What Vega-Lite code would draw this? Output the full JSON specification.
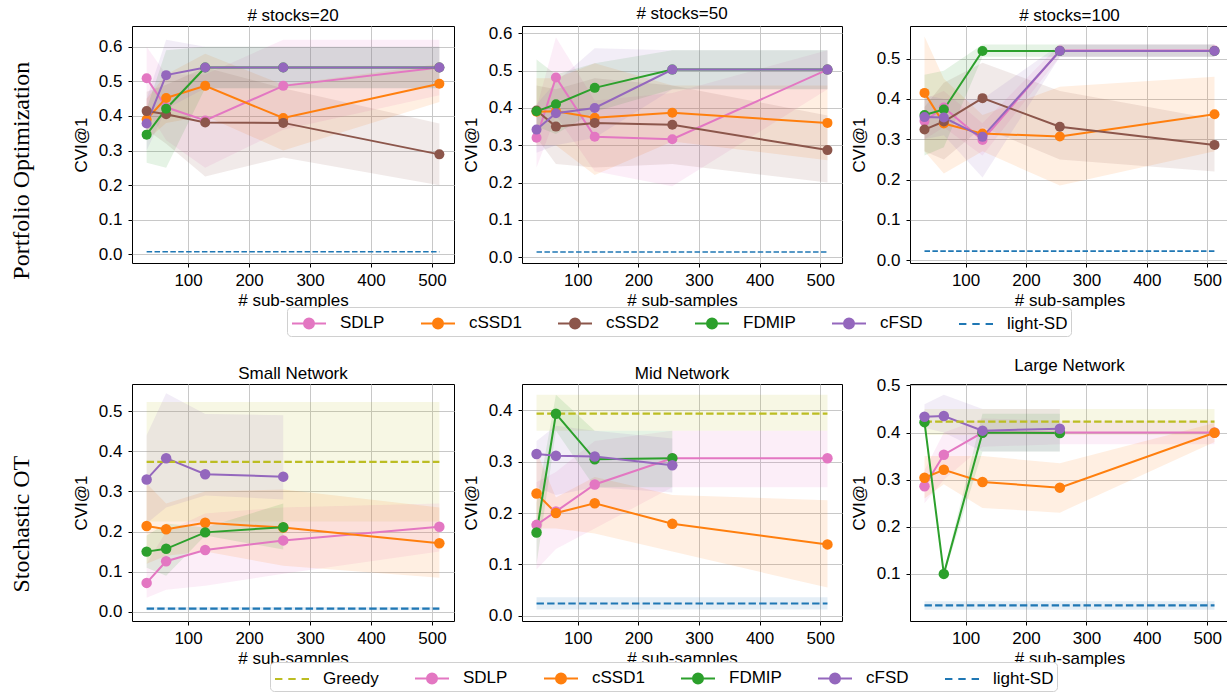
{
"$schema": "https://vega.github.io/schema/vega-lite/v6.json",
"padding": {"left": 9, "top": 4, "right": 0, "bottom": 0},
"data": {"values": [
{"p":"s20","s":"SDLP","x":32,"y":0.509,"lo":0.42,"hi":0.6},
{"p":"s20","s":"SDLP","x":64,"y":0.425,"lo":0.33,"hi":0.52},
{"p":"s20","s":"SDLP","x":128,"y":0.387,"lo":0.25,"hi":0.52},
{"p":"s20","s":"SDLP","x":256,"y":0.487,"lo":0.36,"hi":0.62},
{"p":"s20","s":"SDLP","x":512,"y":0.54,"lo":0.46,"hi":0.62},
{"p":"s20","s":"cSSD1","x":32,"y":0.39,"lo":0.33,"hi":0.45},
{"p":"s20","s":"cSSD1","x":64,"y":0.452,"lo":0.38,"hi":0.52},
{"p":"s20","s":"cSSD1","x":128,"y":0.487,"lo":0.4,"hi":0.58},
{"p":"s20","s":"cSSD1","x":256,"y":0.394,"lo":0.3,"hi":0.49},
{"p":"s20","s":"cSSD1","x":512,"y":0.493,"lo":0.44,"hi":0.55},
{"p":"s20","s":"cSSD2","x":32,"y":0.414,"lo":0.36,"hi":0.47},
{"p":"s20","s":"cSSD2","x":64,"y":0.405,"lo":0.32,"hi":0.49},
{"p":"s20","s":"cSSD2","x":128,"y":0.381,"lo":0.225,"hi":0.54},
{"p":"s20","s":"cSSD2","x":256,"y":0.38,"lo":0.28,"hi":0.48},
{"p":"s20","s":"cSSD2","x":512,"y":0.289,"lo":0.2,"hi":0.378},
{"p":"s20","s":"FDMIP","x":32,"y":0.346,"lo":0.265,"hi":0.42},
{"p":"s20","s":"FDMIP","x":64,"y":0.421,"lo":0.25,"hi":0.59},
{"p":"s20","s":"FDMIP","x":128,"y":0.54,"lo":0.48,"hi":0.6},
{"p":"s20","s":"FDMIP","x":256,"y":0.54,"lo":0.48,"hi":0.6},
{"p":"s20","s":"FDMIP","x":512,"y":0.54,"lo":0.48,"hi":0.6},
{"p":"s20","s":"cFSD","x":32,"y":0.378,"lo":0.3,"hi":0.45},
{"p":"s20","s":"cFSD","x":64,"y":0.518,"lo":0.42,"hi":0.62},
{"p":"s20","s":"cFSD","x":128,"y":0.54,"lo":0.48,"hi":0.6},
{"p":"s20","s":"cFSD","x":256,"y":0.54,"lo":0.48,"hi":0.6},
{"p":"s20","s":"cFSD","x":512,"y":0.54,"lo":0.48,"hi":0.6},
{"p":"s20","s":"light-SD","x":32,"y":0.0075},
{"p":"s20","s":"light-SD","x":64,"y":0.0075},
{"p":"s20","s":"light-SD","x":128,"y":0.0075},
{"p":"s20","s":"light-SD","x":256,"y":0.0075},
{"p":"s20","s":"light-SD","x":512,"y":0.0075},
{"p":"s50","s":"SDLP","x":32,"y":0.32,"lo":0.24,"hi":0.4},
{"p":"s50","s":"SDLP","x":64,"y":0.482,"lo":0.38,"hi":0.59},
{"p":"s50","s":"SDLP","x":128,"y":0.323,"lo":0.23,"hi":0.42},
{"p":"s50","s":"SDLP","x":256,"y":0.316,"lo":0.19,"hi":0.44},
{"p":"s50","s":"SDLP","x":512,"y":0.503,"lo":0.45,"hi":0.555},
{"p":"s50","s":"cSSD1","x":32,"y":0.39,"lo":0.3,"hi":0.48},
{"p":"s50","s":"cSSD1","x":64,"y":0.391,"lo":0.3,"hi":0.48},
{"p":"s50","s":"cSSD1","x":128,"y":0.374,"lo":0.22,"hi":0.52},
{"p":"s50","s":"cSSD1","x":256,"y":0.387,"lo":0.31,"hi":0.46},
{"p":"s50","s":"cSSD1","x":512,"y":0.36,"lo":0.26,"hi":0.46},
{"p":"s50","s":"cSSD2","x":32,"y":0.393,"lo":0.32,"hi":0.46},
{"p":"s50","s":"cSSD2","x":64,"y":0.35,"lo":0.25,"hi":0.45},
{"p":"s50","s":"cSSD2","x":128,"y":0.36,"lo":0.24,"hi":0.48},
{"p":"s50","s":"cSSD2","x":256,"y":0.355,"lo":0.25,"hi":0.46},
{"p":"s50","s":"cSSD2","x":512,"y":0.287,"lo":0.2,"hi":0.38},
{"p":"s50","s":"FDMIP","x":32,"y":0.391,"lo":0.35,"hi":0.53},
{"p":"s50","s":"FDMIP","x":64,"y":0.41,"lo":0.33,"hi":0.49},
{"p":"s50","s":"FDMIP","x":128,"y":0.454,"lo":0.39,"hi":0.52},
{"p":"s50","s":"FDMIP","x":256,"y":0.503,"lo":0.45,"hi":0.555},
{"p":"s50","s":"FDMIP","x":512,"y":0.503,"lo":0.45,"hi":0.555},
{"p":"s50","s":"cFSD","x":32,"y":0.342,"lo":0.28,"hi":0.41},
{"p":"s50","s":"cFSD","x":64,"y":0.386,"lo":0.3,"hi":0.47},
{"p":"s50","s":"cFSD","x":128,"y":0.4,"lo":0.32,"hi":0.56},
{"p":"s50","s":"cFSD","x":256,"y":0.503,"lo":0.45,"hi":0.555},
{"p":"s50","s":"cFSD","x":512,"y":0.503,"lo":0.45,"hi":0.555},
{"p":"s50","s":"light-SD","x":32,"y":0.0135},
{"p":"s50","s":"light-SD","x":64,"y":0.0135},
{"p":"s50","s":"light-SD","x":128,"y":0.0135},
{"p":"s50","s":"light-SD","x":256,"y":0.0135},
{"p":"s50","s":"light-SD","x":512,"y":0.0135},
{"p":"s100","s":"SDLP","x":32,"y":0.345,"lo":0.3,"hi":0.4},
{"p":"s100","s":"SDLP","x":64,"y":0.379,"lo":0.33,"hi":0.42},
{"p":"s100","s":"SDLP","x":128,"y":0.298,"lo":0.26,"hi":0.34},
{"p":"s100","s":"SDLP","x":256,"y":0.52,"lo":0.505,"hi":0.535},
{"p":"s100","s":"SDLP","x":512,"y":0.52,"lo":0.505,"hi":0.535},
{"p":"s100","s":"cSSD1","x":32,"y":0.415,"lo":0.27,"hi":0.555},
{"p":"s100","s":"cSSD1","x":64,"y":0.339,"lo":0.215,"hi":0.45},
{"p":"s100","s":"cSSD1","x":128,"y":0.314,"lo":0.27,"hi":0.36},
{"p":"s100","s":"cSSD1","x":256,"y":0.307,"lo":0.185,"hi":0.43},
{"p":"s100","s":"cSSD1","x":512,"y":0.362,"lo":0.27,"hi":0.455},
{"p":"s100","s":"cSSD2","x":32,"y":0.324,"lo":0.27,"hi":0.38},
{"p":"s100","s":"cSSD2","x":64,"y":0.344,"lo":0.25,"hi":0.44},
{"p":"s100","s":"cSSD2","x":128,"y":0.402,"lo":0.33,"hi":0.49},
{"p":"s100","s":"cSSD2","x":256,"y":0.331,"lo":0.25,"hi":0.42},
{"p":"s100","s":"cSSD2","x":512,"y":0.286,"lo":0.22,"hi":0.35},
{"p":"s100","s":"FDMIP","x":32,"y":0.36,"lo":0.26,"hi":0.46},
{"p":"s100","s":"FDMIP","x":64,"y":0.374,"lo":0.28,"hi":0.47},
{"p":"s100","s":"FDMIP","x":128,"y":0.519,"lo":0.505,"hi":0.535},
{"p":"s100","s":"FDMIP","x":256,"y":0.519,"lo":0.505,"hi":0.535},
{"p":"s100","s":"FDMIP","x":512,"y":0.519,"lo":0.505,"hi":0.535},
{"p":"s100","s":"cFSD","x":32,"y":0.355,"lo":0.3,"hi":0.41},
{"p":"s100","s":"cFSD","x":64,"y":0.354,"lo":0.31,"hi":0.4},
{"p":"s100","s":"cFSD","x":128,"y":0.306,"lo":0.205,"hi":0.4},
{"p":"s100","s":"cFSD","x":256,"y":0.519,"lo":0.505,"hi":0.535},
{"p":"s100","s":"cFSD","x":512,"y":0.519,"lo":0.505,"hi":0.535},
{"p":"s100","s":"light-SD","x":32,"y":0.0225},
{"p":"s100","s":"light-SD","x":64,"y":0.0225},
{"p":"s100","s":"light-SD","x":128,"y":0.0225},
{"p":"s100","s":"light-SD","x":256,"y":0.0225},
{"p":"s100","s":"light-SD","x":512,"y":0.0225},
{"p":"small","s":"Greedy","x":32,"y":0.374,"lo":0.225,"hi":0.523},
{"p":"small","s":"Greedy","x":64,"y":0.374,"lo":0.225,"hi":0.523},
{"p":"small","s":"Greedy","x":128,"y":0.374,"lo":0.225,"hi":0.523},
{"p":"small","s":"Greedy","x":256,"y":0.374,"lo":0.225,"hi":0.523},
{"p":"small","s":"Greedy","x":512,"y":0.374,"lo":0.225,"hi":0.523},
{"p":"small","s":"SDLP","x":32,"y":0.072,"lo":0.035,"hi":0.12},
{"p":"small","s":"SDLP","x":64,"y":0.126,"lo":0.055,"hi":0.2},
{"p":"small","s":"SDLP","x":128,"y":0.154,"lo":0.065,"hi":0.245},
{"p":"small","s":"SDLP","x":256,"y":0.178,"lo":0.095,"hi":0.26},
{"p":"small","s":"SDLP","x":512,"y":0.212,"lo":0.15,"hi":0.27},
{"p":"small","s":"cSSD1","x":32,"y":0.214,"lo":0.12,"hi":0.32},
{"p":"small","s":"cSSD1","x":64,"y":0.206,"lo":0.14,"hi":0.27},
{"p":"small","s":"cSSD1","x":128,"y":0.222,"lo":0.15,"hi":0.3},
{"p":"small","s":"cSSD1","x":256,"y":0.21,"lo":0.115,"hi":0.305},
{"p":"small","s":"cSSD1","x":512,"y":0.171,"lo":0.085,"hi":0.26},
{"p":"small","s":"FDMIP","x":32,"y":0.15,"lo":0.11,"hi":0.19},
{"p":"small","s":"FDMIP","x":64,"y":0.157,"lo":0.09,"hi":0.22},
{"p":"small","s":"FDMIP","x":128,"y":0.198,"lo":0.19,"hi":0.21},
{"p":"small","s":"FDMIP","x":256,"y":0.211,"lo":0.155,"hi":0.27},
{"p":"small","s":"cFSD","x":32,"y":0.33,"lo":0.22,"hi":0.44},
{"p":"small","s":"cFSD","x":64,"y":0.383,"lo":0.26,"hi":0.545},
{"p":"small","s":"cFSD","x":128,"y":0.343,"lo":0.29,"hi":0.493},
{"p":"small","s":"cFSD","x":256,"y":0.337,"lo":0.28,"hi":0.49},
{"p":"small","s":"light-SD","x":32,"y":0.008,"lo":0.004,"hi":0.012},
{"p":"small","s":"light-SD","x":64,"y":0.008,"lo":0.004,"hi":0.012},
{"p":"small","s":"light-SD","x":128,"y":0.008,"lo":0.004,"hi":0.012},
{"p":"small","s":"light-SD","x":256,"y":0.008,"lo":0.004,"hi":0.012},
{"p":"small","s":"light-SD","x":512,"y":0.008,"lo":0.004,"hi":0.012},
{"p":"mid","s":"Greedy","x":32,"y":0.3935,"lo":0.36,"hi":0.43},
{"p":"mid","s":"Greedy","x":64,"y":0.3935,"lo":0.36,"hi":0.43},
{"p":"mid","s":"Greedy","x":128,"y":0.3935,"lo":0.36,"hi":0.43},
{"p":"mid","s":"Greedy","x":256,"y":0.3935,"lo":0.36,"hi":0.43},
{"p":"mid","s":"Greedy","x":512,"y":0.3935,"lo":0.36,"hi":0.43},
{"p":"mid","s":"SDLP","x":32,"y":0.177,"lo":0.09,"hi":0.26},
{"p":"mid","s":"SDLP","x":64,"y":0.203,"lo":0.13,"hi":0.28},
{"p":"mid","s":"SDLP","x":128,"y":0.2555,"lo":0.17,"hi":0.34},
{"p":"mid","s":"SDLP","x":256,"y":0.3065,"lo":0.25,"hi":0.36},
{"p":"mid","s":"SDLP","x":512,"y":0.3065,"lo":0.25,"hi":0.36},
{"p":"mid","s":"cSSD1","x":32,"y":0.238,"lo":0.17,"hi":0.32},
{"p":"mid","s":"cSSD1","x":64,"y":0.2,"lo":0.17,"hi":0.23},
{"p":"mid","s":"cSSD1","x":128,"y":0.219,"lo":0.16,"hi":0.27},
{"p":"mid","s":"cSSD1","x":256,"y":0.179,"lo":0.125,"hi":0.235},
{"p":"mid","s":"cSSD1","x":512,"y":0.139,"lo":0.055,"hi":0.225},
{"p":"mid","s":"FDMIP","x":32,"y":0.162,"lo":0.1,"hi":0.22},
{"p":"mid","s":"FDMIP","x":64,"y":0.393,"lo":0.36,"hi":0.43},
{"p":"mid","s":"FDMIP","x":128,"y":0.3045,"lo":0.25,"hi":0.36},
{"p":"mid","s":"FDMIP","x":256,"y":0.3065,"lo":0.25,"hi":0.36},
{"p":"mid","s":"cFSD","x":32,"y":0.315,"lo":0.25,"hi":0.34},
{"p":"mid","s":"cFSD","x":64,"y":0.3115,"lo":0.235,"hi":0.37},
{"p":"mid","s":"cFSD","x":128,"y":0.31,"lo":0.25,"hi":0.36},
{"p":"mid","s":"cFSD","x":256,"y":0.293,"lo":0.24,"hi":0.345},
{"p":"mid","s":"light-SD","x":32,"y":0.024,"lo":0.0125,"hi":0.036},
{"p":"mid","s":"light-SD","x":64,"y":0.024,"lo":0.0125,"hi":0.036},
{"p":"mid","s":"light-SD","x":128,"y":0.024,"lo":0.0125,"hi":0.036},
{"p":"mid","s":"light-SD","x":256,"y":0.024,"lo":0.0125,"hi":0.036},
{"p":"mid","s":"light-SD","x":512,"y":0.024,"lo":0.0125,"hi":0.036},
{"p":"large","s":"Greedy","x":32,"y":0.423,"lo":0.395,"hi":0.45},
{"p":"large","s":"Greedy","x":64,"y":0.423,"lo":0.395,"hi":0.45},
{"p":"large","s":"Greedy","x":128,"y":0.423,"lo":0.395,"hi":0.45},
{"p":"large","s":"Greedy","x":256,"y":0.423,"lo":0.395,"hi":0.45},
{"p":"large","s":"Greedy","x":512,"y":0.423,"lo":0.395,"hi":0.45},
{"p":"large","s":"SDLP","x":32,"y":0.286,"lo":0.25,"hi":0.32},
{"p":"large","s":"SDLP","x":64,"y":0.353,"lo":0.3,"hi":0.4},
{"p":"large","s":"SDLP","x":128,"y":0.4,"lo":0.37,"hi":0.43},
{"p":"large","s":"SDLP","x":256,"y":0.4,"lo":0.375,"hi":0.425},
{"p":"large","s":"SDLP","x":512,"y":0.4,"lo":0.375,"hi":0.425},
{"p":"large","s":"cSSD1","x":32,"y":0.304,"lo":0.26,"hi":0.35},
{"p":"large","s":"cSSD1","x":64,"y":0.321,"lo":0.29,"hi":0.35},
{"p":"large","s":"cSSD1","x":128,"y":0.295,"lo":0.24,"hi":0.35},
{"p":"large","s":"cSSD1","x":256,"y":0.283,"lo":0.23,"hi":0.335},
{"p":"large","s":"cSSD1","x":512,"y":0.3995,"lo":0.38,"hi":0.42},
{"p":"large","s":"FDMIP","x":32,"y":0.422,"lo":0.41,"hi":0.43},
{"p":"large","s":"FDMIP","x":64,"y":0.1,"lo":0.095,"hi":0.105},
{"p":"large","s":"FDMIP","x":128,"y":0.3995,"lo":0.36,"hi":0.44},
{"p":"large","s":"FDMIP","x":256,"y":0.399,"lo":0.36,"hi":0.44},
{"p":"large","s":"cFSD","x":32,"y":0.4335,"lo":0.41,"hi":0.46},
{"p":"large","s":"cFSD","x":64,"y":0.435,"lo":0.4,"hi":0.48},
{"p":"large","s":"cFSD","x":128,"y":0.404,"lo":0.36,"hi":0.45},
{"p":"large","s":"cFSD","x":256,"y":0.408,"lo":0.36,"hi":0.45},
{"p":"large","s":"light-SD","x":32,"y":0.033,"lo":0.024,"hi":0.042},
{"p":"large","s":"light-SD","x":64,"y":0.033,"lo":0.024,"hi":0.042},
{"p":"large","s":"light-SD","x":128,"y":0.033,"lo":0.024,"hi":0.042},
{"p":"large","s":"light-SD","x":256,"y":0.033,"lo":0.024,"hi":0.042},
{"p":"large","s":"light-SD","x":512,"y":0.033,"lo":0.024,"hi":0.042}
]},
"config": {
  "font": "Liberation Sans",
  "view": {"stroke": "black", "strokeWidth": 1},
  "axis": {"labelFont": "Liberation Sans", "labelFontSize": 17, "labelColor": "black", "titleFont": "Liberation Sans", "titleFontSize": 17, "titleFontWeight": "normal", "titleColor": "black", "tickColor": "black", "tickSize": 4, "domain": false, "gridColor": "#c8c8c8", "gridWidth": 1, "labelFlush": false},
  "axisY": {"titlePadding": 8, "labelPadding": 6},
  "axisX": {"titlePadding": 4, "labelPadding": 5},
  "title": {"font": "Liberation Sans", "fontSize": 17, "fontWeight": "normal", "color": "black", "offset": 1},
  "legend": {"labelFont": "Liberation Sans", "labelFontSize": 17, "labelColor": "black"}
},
"spacing": 19,
"resolve": {"scale": {"color": "independent"}, "legend": {"color": "independent"}},
"vconcat": [
{
  "title": {"text": "Portfolio Optimization", "orient": "left", "anchor": "middle", "font": "Liberation Serif", "fontSize": 24, "fontWeight": "normal", "offset": 38},
  "spacing": 6,
  "resolve": {"scale": {"color": "shared", "x": "independent", "y": "independent"}, "legend": {"color": "shared"}},
  "hconcat": [
  {
    "width": 322, "height": 237,
    "title": "# stocks=20",
    "transform": [{"filter": "datum.p === 's20'"}],
    "encoding": {
      "x": {"field": "x", "type": "quantitative", "scale": {"domain": [8, 536], "nice": false, "zero": false}, "axis": {"values": [100,200,300,400,500], "title": "# sub-samples"}},
      "y": {"field": "y", "type": "quantitative", "scale": {"domain": [-0.025, 0.66], "nice": false, "zero": false}, "axis": {"values": [0,0.1,0.2,0.3,0.4,0.5,0.6], "format": ".1f", "title": "CVI@1"}},
      "color": {"field": "s", "type": "nominal", "scale": {"domain": ["SDLP","cSSD1","cSSD2","FDMIP","cFSD","light-SD"], "range": ["#e377c2","#ff7f0e","#8c564b","#2ca02c","#9467bd","#1f77b4"]},
        "legend": {"title": null, "orient": "none", "legendX": 155, "legendY": 281, "direction": "horizontal", "symbolSize": 576, "symbolOffset": 6, "labelOffset": 18, "columnPadding": 31, "padding": 3, "strokeColor": "#d0d0d0", "cornerRadius": 4, "fillColor": "white",
          "encode": {"symbols": {"update": {
            "shape": [{"test": "datum.value === 'Greedy' || datum.value === 'light-SD'", "value": "M-1.417,0L-0.8,0M-0.308,0L0.308,0M0.8,0L1.417,0"}, {"value": "M-1.417,0L1.417,0M-0.417,0A0.417,0.417,0,1,0,0.417,0A0.417,0.417,0,1,0,-0.417,0Z"}],
            "fill": {"signal": "datum.value==='SDLP'?'#e377c2':datum.value==='cSSD1'?'#ff7f0e':datum.value==='cSSD2'?'#8c564b':datum.value==='FDMIP'?'#2ca02c':datum.value==='cFSD'?'#9467bd':datum.value==='Greedy'?'#bcbd22':'#1f77b4'"},
            "stroke": {"signal": "datum.value==='SDLP'?'#e377c2':datum.value==='cSSD1'?'#ff7f0e':datum.value==='cSSD2'?'#8c564b':datum.value==='FDMIP'?'#2ca02c':datum.value==='cFSD'?'#9467bd':datum.value==='Greedy'?'#bcbd22':'#1f77b4'"},
            "strokeWidth": {"value": 2}, "opacity": {"value": 1}, "strokeDash": {"value": []}}}}}}
    },
    "layer": [
      {"transform": [{"filter": "isValid(datum.lo)"}], "mark": {"type": "area", "opacity": 0.12}, "encoding": {"y": {"field": "lo", "type": "quantitative", "scale": {"domain": [-0.025, 0.66], "nice": false, "zero": false}, "axis": {"values": [0,0.1,0.2,0.3,0.4,0.5,0.6], "format": ".1f", "title": "CVI@1"}}, "y2": {"field": "hi"}}},
      {"transform": [{"filter": "datum.s !== 'light-SD' && datum.s !== 'Greedy'"}], "mark": {"type": "line", "strokeWidth": 2}},
      {"transform": [{"filter": "datum.s === 'light-SD' || datum.s === 'Greedy'"}], "mark": {"type": "line", "strokeWidth": 1.6, "strokeDash": [5.5, 2.4]}},
      {"transform": [{"filter": "datum.s !== 'light-SD' && datum.s !== 'Greedy'"}], "mark": {"type": "point", "filled": true, "size": 100, "opacity": 1}}
    ]
  },
  {
    "width": 320, "height": 237,
    "title": "# stocks=50",
    "transform": [{"filter": "datum.p === 's50'"}],
    "encoding": {
      "x": {"field": "x", "type": "quantitative", "scale": {"domain": [8, 536], "nice": false, "zero": false}, "axis": {"values": [100,200,300,400,500], "title": "# sub-samples"}},
      "y": {"field": "y", "type": "quantitative", "scale": {"domain": [-0.016, 0.62], "nice": false, "zero": false}, "axis": {"values": [0,0.1,0.2,0.3,0.4,0.5,0.6], "format": ".1f", "title": "CVI@1"}},
      "color": {"field": "s", "type": "nominal", "scale": {"domain": ["SDLP","cSSD1","cSSD2","FDMIP","cFSD","light-SD"], "range": ["#e377c2","#ff7f0e","#8c564b","#2ca02c","#9467bd","#1f77b4"]}}
    },
    "layer": [
      {"transform": [{"filter": "isValid(datum.lo)"}], "mark": {"type": "area", "opacity": 0.12}, "encoding": {"y": {"field": "lo", "type": "quantitative", "scale": {"domain": [-0.016, 0.62], "nice": false, "zero": false}, "axis": {"values": [0,0.1,0.2,0.3,0.4,0.5,0.6], "format": ".1f", "title": "CVI@1"}}, "y2": {"field": "hi"}}},
      {"transform": [{"filter": "datum.s !== 'light-SD' && datum.s !== 'Greedy'"}], "mark": {"type": "line", "strokeWidth": 2}},
      {"transform": [{"filter": "datum.s === 'light-SD' || datum.s === 'Greedy'"}], "mark": {"type": "line", "strokeWidth": 1.6, "strokeDash": [5.5, 2.4]}},
      {"transform": [{"filter": "datum.s !== 'light-SD' && datum.s !== 'Greedy'"}], "mark": {"type": "point", "filled": true, "size": 100, "opacity": 1}}
    ]
  },
  {
    "width": 319, "height": 237,
    "title": "# stocks=100",
    "transform": [{"filter": "datum.p === 's100'"}],
    "encoding": {
      "x": {"field": "x", "type": "quantitative", "scale": {"domain": [8, 536], "nice": false, "zero": false}, "axis": {"values": [100,200,300,400,500], "title": "# sub-samples"}},
      "y": {"field": "y", "type": "quantitative", "scale": {"domain": [-0.007, 0.581], "nice": false, "zero": false}, "axis": {"values": [0,0.1,0.2,0.3,0.4,0.5], "format": ".1f", "title": "CVI@1"}},
      "color": {"field": "s", "type": "nominal", "scale": {"domain": ["SDLP","cSSD1","cSSD2","FDMIP","cFSD","light-SD"], "range": ["#e377c2","#ff7f0e","#8c564b","#2ca02c","#9467bd","#1f77b4"]}}
    },
    "layer": [
      {"transform": [{"filter": "isValid(datum.lo)"}], "mark": {"type": "area", "opacity": 0.12}, "encoding": {"y": {"field": "lo", "type": "quantitative", "scale": {"domain": [-0.007, 0.581], "nice": false, "zero": false}, "axis": {"values": [0,0.1,0.2,0.3,0.4,0.5], "format": ".1f", "title": "CVI@1"}}, "y2": {"field": "hi"}}},
      {"transform": [{"filter": "datum.s !== 'light-SD' && datum.s !== 'Greedy'"}], "mark": {"type": "line", "strokeWidth": 2}},
      {"transform": [{"filter": "datum.s === 'light-SD' || datum.s === 'Greedy'"}], "mark": {"type": "line", "strokeWidth": 1.6, "strokeDash": [5.5, 2.4]}},
      {"transform": [{"filter": "datum.s !== 'light-SD' && datum.s !== 'Greedy'"}], "mark": {"type": "point", "filled": true, "size": 100, "opacity": 1}}
    ]
  }
  ]
},
{
  "title": {"text": "Stochastic OT", "orient": "left", "anchor": "middle", "font": "Liberation Serif", "fontSize": 24, "fontWeight": "normal", "offset": 38},
  "spacing": 6,
  "resolve": {"scale": {"color": "shared", "x": "independent", "y": "independent"}, "legend": {"color": "shared"}},
  "hconcat": [
  {
    "width": 322, "height": 237,
    "title": "Small Network",
    "transform": [{"filter": "datum.p === 'small'"}],
    "encoding": {
      "x": {"field": "x", "type": "quantitative", "scale": {"domain": [8, 536], "nice": false, "zero": false}, "axis": {"values": [100,200,300,400,500], "title": "# sub-samples"}},
      "y": {"field": "y", "type": "quantitative", "scale": {"domain": [-0.023, 0.568], "nice": false, "zero": false}, "axis": {"values": [0,0.1,0.2,0.3,0.4,0.5], "format": ".1f", "title": "CVI@1"}},
      "color": {"field": "s", "type": "nominal", "scale": {"domain": ["Greedy","SDLP","cSSD1","FDMIP","cFSD","light-SD"], "range": ["#bcbd22","#e377c2","#ff7f0e","#2ca02c","#9467bd","#1f77b4"]},
        "legend": {"title": null, "orient": "none", "legendX": 138, "legendY": 278, "direction": "horizontal", "symbolSize": 576, "symbolOffset": 6, "labelOffset": 18, "columnPadding": 31, "padding": 3, "strokeColor": "#d0d0d0", "cornerRadius": 4, "fillColor": "white",
          "encode": {"symbols": {"update": {
            "shape": [{"test": "datum.value === 'Greedy' || datum.value === 'light-SD'", "value": "M-1.417,0L-0.8,0M-0.308,0L0.308,0M0.8,0L1.417,0"}, {"value": "M-1.417,0L1.417,0M-0.417,0A0.417,0.417,0,1,0,0.417,0A0.417,0.417,0,1,0,-0.417,0Z"}],
            "fill": {"signal": "datum.value==='SDLP'?'#e377c2':datum.value==='cSSD1'?'#ff7f0e':datum.value==='cSSD2'?'#8c564b':datum.value==='FDMIP'?'#2ca02c':datum.value==='cFSD'?'#9467bd':datum.value==='Greedy'?'#bcbd22':'#1f77b4'"},
            "stroke": {"signal": "datum.value==='SDLP'?'#e377c2':datum.value==='cSSD1'?'#ff7f0e':datum.value==='cSSD2'?'#8c564b':datum.value==='FDMIP'?'#2ca02c':datum.value==='cFSD'?'#9467bd':datum.value==='Greedy'?'#bcbd22':'#1f77b4'"},
            "strokeWidth": {"value": 2}, "opacity": {"value": 1}, "strokeDash": {"value": []}}}}}}
    },
    "layer": [
      {"transform": [{"filter": "isValid(datum.lo)"}], "mark": {"type": "area", "opacity": 0.12}, "encoding": {"y": {"field": "lo", "type": "quantitative", "scale": {"domain": [-0.023, 0.568], "nice": false, "zero": false}, "axis": {"values": [0,0.1,0.2,0.3,0.4,0.5], "format": ".1f", "title": "CVI@1"}}, "y2": {"field": "hi"}}},
      {"transform": [{"filter": "datum.s !== 'light-SD' && datum.s !== 'Greedy'"}], "mark": {"type": "line", "strokeWidth": 2}},
      {"transform": [{"filter": "datum.s === 'light-SD' || datum.s === 'Greedy'"}], "mark": {"type": "line", "strokeWidth": 2.2, "strokeDash": [7.4, 3.2]}},
      {"transform": [{"filter": "datum.s !== 'light-SD' && datum.s !== 'Greedy'"}], "mark": {"type": "point", "filled": true, "size": 110, "opacity": 1}}
    ]
  },
  {
    "width": 320, "height": 237,
    "title": "Mid Network",
    "transform": [{"filter": "datum.p === 'mid'"}],
    "encoding": {
      "x": {"field": "x", "type": "quantitative", "scale": {"domain": [8, 536], "nice": false, "zero": false}, "axis": {"values": [100,200,300,400,500], "title": "# sub-samples"}},
      "y": {"field": "y", "type": "quantitative", "scale": {"domain": [-0.01, 0.451], "nice": false, "zero": false}, "axis": {"values": [0,0.1,0.2,0.3,0.4], "format": ".1f", "title": "CVI@1"}},
      "color": {"field": "s", "type": "nominal", "scale": {"domain": ["Greedy","SDLP","cSSD1","FDMIP","cFSD","light-SD"], "range": ["#bcbd22","#e377c2","#ff7f0e","#2ca02c","#9467bd","#1f77b4"]}}
    },
    "layer": [
      {"transform": [{"filter": "isValid(datum.lo)"}], "mark": {"type": "area", "opacity": 0.12}, "encoding": {"y": {"field": "lo", "type": "quantitative", "scale": {"domain": [-0.01, 0.451], "nice": false, "zero": false}, "axis": {"values": [0,0.1,0.2,0.3,0.4], "format": ".1f", "title": "CVI@1"}}, "y2": {"field": "hi"}}},
      {"transform": [{"filter": "datum.s !== 'light-SD' && datum.s !== 'Greedy'"}], "mark": {"type": "line", "strokeWidth": 2}},
      {"transform": [{"filter": "datum.s === 'light-SD' || datum.s === 'Greedy'"}], "mark": {"type": "line", "strokeWidth": 2.2, "strokeDash": [7.4, 3.2]}},
      {"transform": [{"filter": "datum.s !== 'light-SD' && datum.s !== 'Greedy'"}], "mark": {"type": "point", "filled": true, "size": 110, "opacity": 1}}
    ]
  },
  {
    "width": 319, "height": 237,
    "title": "Large Network",
    "transform": [{"filter": "datum.p === 'large'"}],
    "encoding": {
      "x": {"field": "x", "type": "quantitative", "scale": {"domain": [8, 536], "nice": false, "zero": false}, "axis": {"values": [100,200,300,400,500], "title": "# sub-samples"}},
      "y": {"field": "y", "type": "quantitative", "scale": {"domain": [0.0, 0.503], "nice": false, "zero": false}, "axis": {"values": [0.1,0.2,0.3,0.4,0.5], "format": ".1f", "title": "CVI@1"}},
      "color": {"field": "s", "type": "nominal", "scale": {"domain": ["Greedy","SDLP","cSSD1","FDMIP","cFSD","light-SD"], "range": ["#bcbd22","#e377c2","#ff7f0e","#2ca02c","#9467bd","#1f77b4"]}}
    },
    "layer": [
      {"transform": [{"filter": "isValid(datum.lo)"}], "mark": {"type": "area", "opacity": 0.12}, "encoding": {"y": {"field": "lo", "type": "quantitative", "scale": {"domain": [0.0, 0.503], "nice": false, "zero": false}, "axis": {"values": [0.1,0.2,0.3,0.4,0.5], "format": ".1f", "title": "CVI@1"}}, "y2": {"field": "hi"}}},
      {"transform": [{"filter": "datum.s !== 'light-SD' && datum.s !== 'Greedy'"}], "mark": {"type": "line", "strokeWidth": 2}},
      {"transform": [{"filter": "datum.s === 'light-SD' || datum.s === 'Greedy'"}], "mark": {"type": "line", "strokeWidth": 2.2, "strokeDash": [7.4, 3.2]}},
      {"transform": [{"filter": "datum.s !== 'light-SD' && datum.s !== 'Greedy'"}], "mark": {"type": "point", "filled": true, "size": 110, "opacity": 1}}
    ]
  }
  ]
}
]
}
